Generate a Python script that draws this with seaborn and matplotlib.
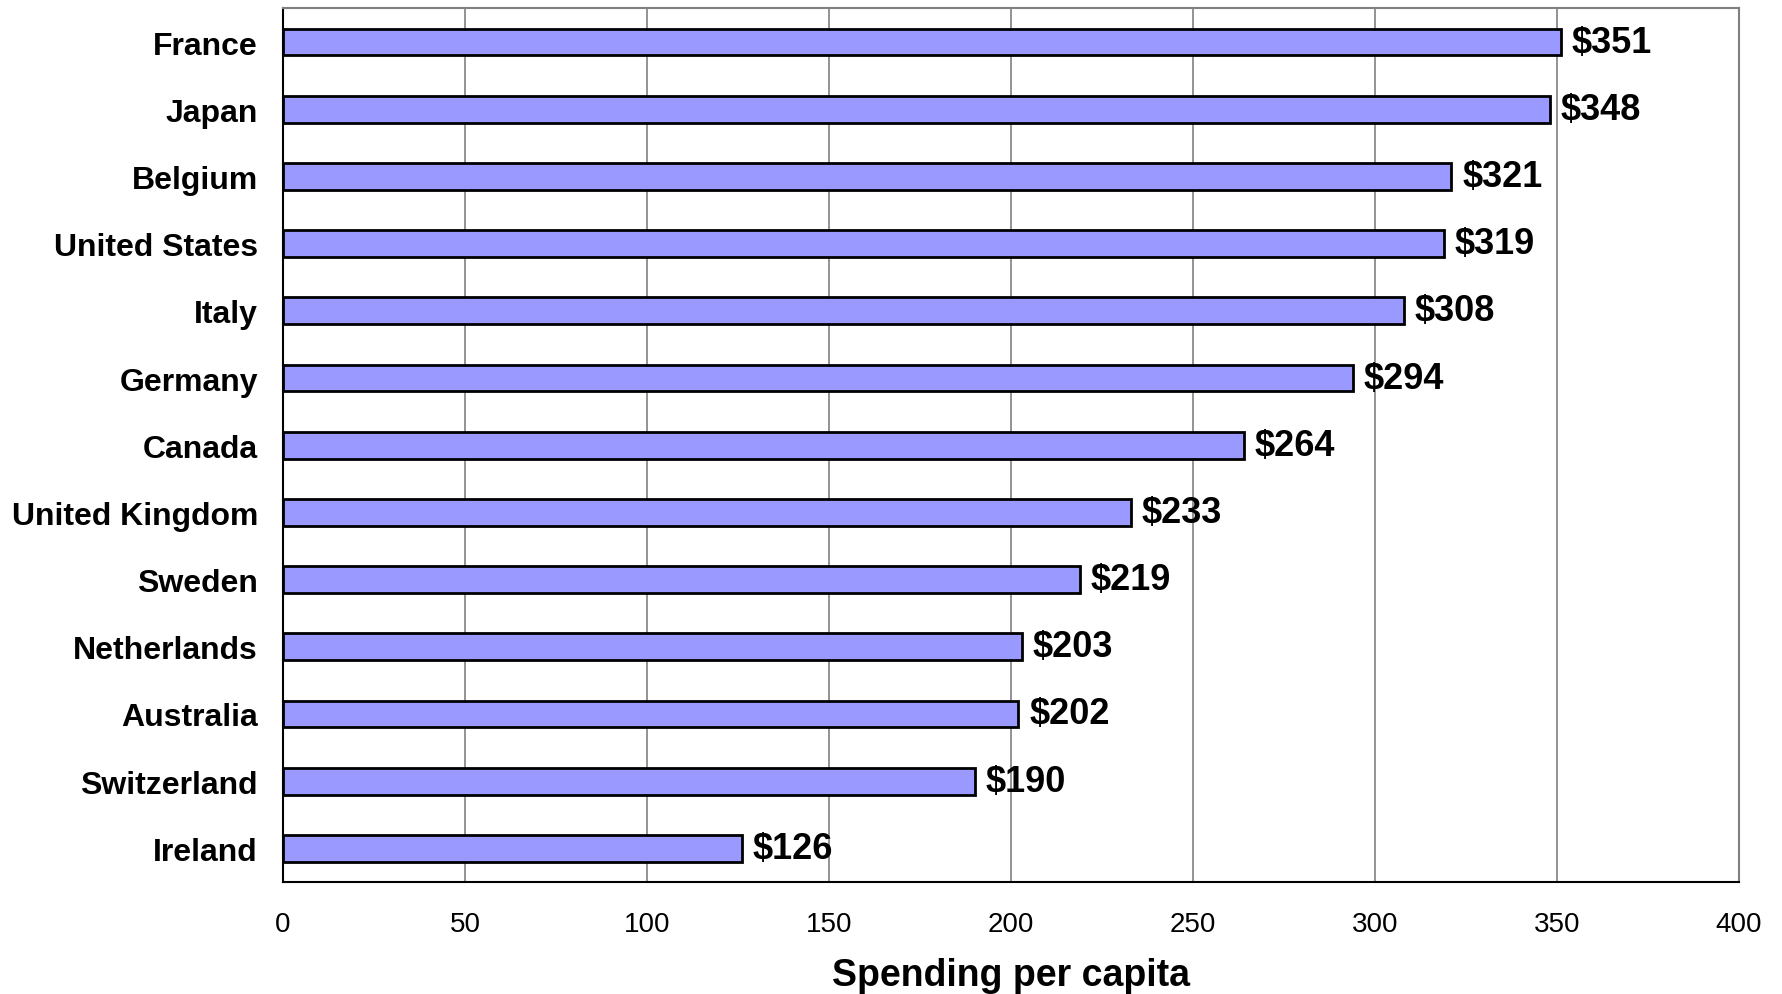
import matplotlib
matplotlib.use("Agg")
import matplotlib.pyplot as plt
import seaborn as sns
import pandas as pd

# values
countries = ["France", "Japan", "Belgium", "United States", "Italy", "Germany",
             "Canada", "United Kingdom", "Sweden", "Netherlands", "Australia",
             "Switzerland", "Ireland"]
spending = [351, 348, 321, 319, 308, 294, 264, 233, 219, 203, 202, 190, 126]
x_ticks = [0, 50, 100, 150, 200, 250, 300, 350, 400]

df = pd.DataFrame({"country": countries, "spending": spending})

sns.set_style("white")
plt.rcParams["font.family"] = ["Liberation Sans", "DejaVu Sans"]
plt.rcParams["text.color"] = "black"
plt.rcParams["axes.labelcolor"] = "black"
plt.rcParams["xtick.color"] = "black"
plt.rcParams["ytick.color"] = "black"

fig = plt.figure(figsize=(17.83, 9.95), dpi=100)
ax = fig.add_axes([0.1587, 0.1126, 0.9753 - 0.1587, 0.9905 - 0.1126])

sns.barplot(data=df, x="spending", y="country", orient="h", ax=ax,
            color="#9999FF", saturation=1, width=0.4,
            edgecolor="black", linewidth=2, zorder=3)

ax.set_xlim(0, 400)
ax.set_ylim(len(countries) - 0.5, -0.5)
ax.set_xticks(x_ticks)
ax.set_xticklabels([str(t) for t in x_ticks], fontsize=20)

# category labels centered, ticks between categories
ax.set_yticks(range(len(countries)))
ax.set_yticklabels(countries, fontsize=23, fontweight="bold")
ax.tick_params(axis="y", length=0, pad=18)
ax.set_yticks([i + 0.5 for i in range(-1, len(countries))], minor=True)
ax.tick_params(axis="y", which="minor", length=9, width=1.2, color="black", direction="out")
ax.tick_params(axis="x", length=9, width=1.2, color="black", direction="out", pad=12)

ax.xaxis.grid(True, color="#808080", linewidth=1.2, zorder=0)
ax.set_axisbelow(True)

for side in ["left", "bottom"]:
    ax.spines[side].set_color("black")
    ax.spines[side].set_linewidth(1.5)
for side in ["top", "right"]:
    ax.spines[side].set_color("#808080")
    ax.spines[side].set_linewidth(1.5)

for i, v in enumerate(spending):
    ax.text(v + 3, i, f"${v}", va="center", ha="left",
            fontsize=26, fontweight="bold", zorder=4)

ax.set_xlabel("Spending per capita", fontsize=27, fontweight="bold", labelpad=14)
ax.set_ylabel("")

fig.savefig("out.png", dpi=100)
